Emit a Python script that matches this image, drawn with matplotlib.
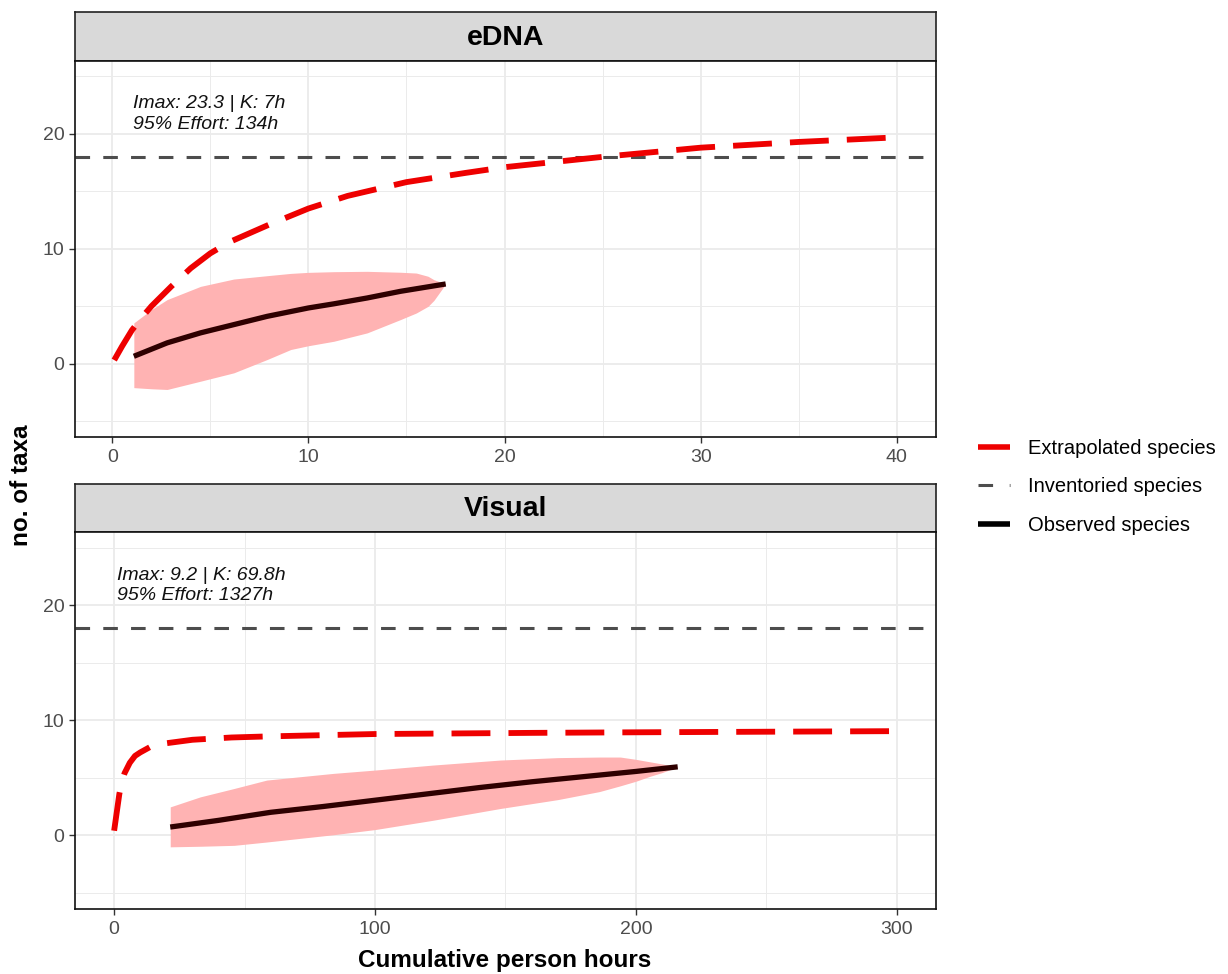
#!/usr/bin/env python3
"""
Species accumulation curves for eDNA and visual surveys.

Two stacked panels (ggplot-like facets) with the extrapolated curve,
the inventoried species level and the observed curve with its ribbon.
"""

import matplotlib
matplotlib.use('Agg')
import matplotlib.pyplot as plt
from matplotlib.lines import Line2D

plt.rcParams['font.family'] = ['Liberation Sans', 'DejaVu Sans']
plt.rcParams['lines.scale_dashes'] = False

# --- data ------------------------------------------------------------------
INVENTORIED = 18

# eDNA panel
edna_extrap_x = [0.1, 0.5, 1, 1.5, 2, 3, 4, 5, 6, 8, 10, 12, 15, 18, 20, 25, 30, 35, 40]
edna_extrap_y = [0.3, 1.5, 2.9, 4.0, 5.0, 6.7, 8.3, 9.6, 10.6, 12.1, 13.5, 14.6, 15.8,
                 16.6, 17.1, 18.0, 18.8, 19.3, 19.7]
edna_obs_x = [1.1, 2.8, 4.5, 6.2, 7.9, 10.0, 11.3, 13.0, 14.7, 17.0]
edna_obs_y = [0.63, 1.8, 2.67, 3.39, 4.11, 4.84, 5.2, 5.71, 6.29, 6.93]
edna_band_x = [1.1, 2.0, 2.8, 4.5, 6.2, 7.9, 9.1, 10.0, 11.3, 13.0, 14.7, 15.5, 16.1, 16.4, 17.0]
edna_band_lo = [-2.1, -2.2, -2.26, -1.54, -0.81, 0.35, 1.22, 1.55, 1.94, 2.67, 3.83, 4.4,
                4.98, 5.5, 6.93]
edna_band_hi = [3.54, 4.7, 5.57, 6.72, 7.36, 7.65, 7.85, 7.94, 8.0, 8.03, 7.95, 7.88,
                7.6, 7.3, 6.93]
edna_note = 'Imax: 23.3 | K: 7h\n95% Effort: 134h'

# Visual panel
vis_extrap_x = [0, 1, 2, 3, 4, 6, 8, 10, 14, 20, 30, 45, 60, 80, 100, 130, 160, 200, 250, 300]
vis_extrap_y = [0.4, 2.0, 3.6, 4.7, 5.4, 6.3, 6.9, 7.2, 7.7, 8.0, 8.3, 8.5, 8.6, 8.7,
                8.8, 8.85, 8.9, 8.95, 9.0, 9.05]
vis_obs_x = [21.5, 40, 60, 80, 100, 120, 140, 160, 180, 200, 216]
vis_obs_y = [0.72, 1.3, 2.0, 2.5, 3.05, 3.6, 4.15, 4.65, 5.1, 5.55, 5.95]
vis_band_x = [21.5, 33, 46, 58.5, 84, 100, 122, 148, 170, 186, 194, 200, 205, 210, 216]
vis_band_lo = [-1.0, -0.95, -0.87, -0.58, 0.05, 0.5, 1.3, 2.33, 3.1, 3.8, 4.3, 4.7,
               5.1, 5.45, 5.95]
vis_band_hi = [2.47, 3.34, 4.07, 4.8, 5.38, 5.67, 6.1, 6.54, 6.75, 6.8, 6.8, 6.6, 6.4,
               6.2, 5.95]
vis_note = 'Imax: 9.2 | K: 69.8h\n95% Effort: 1327h'

# --- styling ----------------------------------------------------------------
W, H = 1228, 974
RED = '#ee0000'
OBS = '#2e0000'
BAND = '#ffb3b3'
GRID = '#ebebeb'
INV = '#4d4d4d'


def frac(left, top, right, bottom):
    """Pixel box -> figure fraction rect."""
    return [left / W, 1 - bottom / H, (right - left) / W, (bottom - top) / H]


def draw_strip(fig, box, label):
    ax = fig.add_axes(frac(*box))
    ax.set_facecolor('#d9d9d9')
    ax.set_xticks([])
    ax.set_yticks([])
    for s in ax.spines.values():
        s.set_linewidth(1.2)
        s.set_color('#222222')
    ax.text(0.5, 0.47, label, ha='center', va='center', fontsize=20.5,
            fontweight='bold', transform=ax.transAxes)


def draw_panel(fig, box, xlim, xmajor, xminor, ext, obs, band, note, note_x):
    ax = fig.add_axes(frac(*box))
    ax.set_xlim(*xlim)
    ax.set_ylim(-6.4, 26.35)
    ax.set_xticks(xmajor)
    ax.set_xticks(xminor, minor=True)
    ax.set_yticks([0, 10, 20])
    ax.set_yticks([-5, 5, 15, 25], minor=True)
    ax.grid(which='major', color=GRID, lw=1.3, zorder=0)
    ax.grid(which='minor', color=GRID, lw=0.7, zorder=0)
    ax.set_axisbelow(True)
    ax.tick_params(which='minor', length=0)
    ax.tick_params(which='major', length=4.5, width=1.0, color='#333333',
                   labelsize=14, labelcolor='#4d4d4d')
    ax.tick_params(axis='x', pad=4)
    ax.tick_params(axis='y', pad=3)
    for s in ax.spines.values():
        s.set_linewidth(1.2)
        s.set_color('#111111')

    ax.axhline(INVENTORIED, color=INV, lw=2.2, dashes=(10.5, 9.5), zorder=2)
    ax.fill_between(band[0], band[1], band[2], color=BAND, lw=0, zorder=2)
    ax.plot(ext[0], ext[1], color=RED, lw=4.2, dashes=(28, 13), zorder=3,
            solid_capstyle='butt', dash_capstyle='butt')
    ax.plot(obs[0], obs[1], color=OBS, lw=3.8, zorder=4, solid_capstyle='butt')

    ax.text(note_x, 21.7, note, ha='left', va='center', fontsize=14,
            style='italic', linespacing=1.3, color='#111111')
    return ax


def main():
    fig = plt.figure(figsize=(W / 100, H / 100), dpi=100)

    # top: eDNA
    draw_strip(fig, (75, 12, 936, 61), 'eDNA')
    draw_panel(fig, (75, 61, 936, 437), (-1.9, 42.0), [0, 10, 20, 30, 40],
               [5, 15, 25, 35],
               (edna_extrap_x, edna_extrap_y), (edna_obs_x, edna_obs_y),
               (edna_band_x, edna_band_lo, edna_band_hi), edna_note, 1.07)

    # bottom: Visual
    draw_strip(fig, (75, 484, 936, 532), 'Visual')
    draw_panel(fig, (75, 532, 936, 909), (-15, 315), [0, 100, 200, 300],
               [50, 150, 250],
               (vis_extrap_x, vis_extrap_y), (vis_obs_x, vis_obs_y),
               (vis_band_x, vis_band_lo, vis_band_hi), vis_note, 1.2)

    fig.text(505 / W, 1 - 960 / H, 'Cumulative person hours', ha='center',
             va='center', fontsize=17.5, fontweight='bold')
    fig.text(22 / W, 1 - 485 / H, 'no. of taxa', ha='center', va='center',
             rotation=90, fontsize=17.5, fontweight='bold')

    handles = [
        Line2D([], [], color=RED, lw=4, solid_capstyle='butt'),
        Line2D([], [], color=INV, lw=2.2, dashes=(10.5, 12)),
        Line2D([], [], color='black', lw=4, solid_capstyle='butt'),
    ]
    labels = ['Extrapolated species', 'Inventoried species', 'Observed species']
    fig.legend(handles, labels, loc='center left',
               bbox_to_anchor=(978 / W, 1 - 487 / H), frameon=False,
               fontsize=14.5, handlelength=1.6, handletextpad=0.9,
               labelspacing=0.95, borderpad=0, borderaxespad=0)

    fig.savefig('out.png', dpi=100)
    plt.close(fig)


if __name__ == '__main__':
    main()
